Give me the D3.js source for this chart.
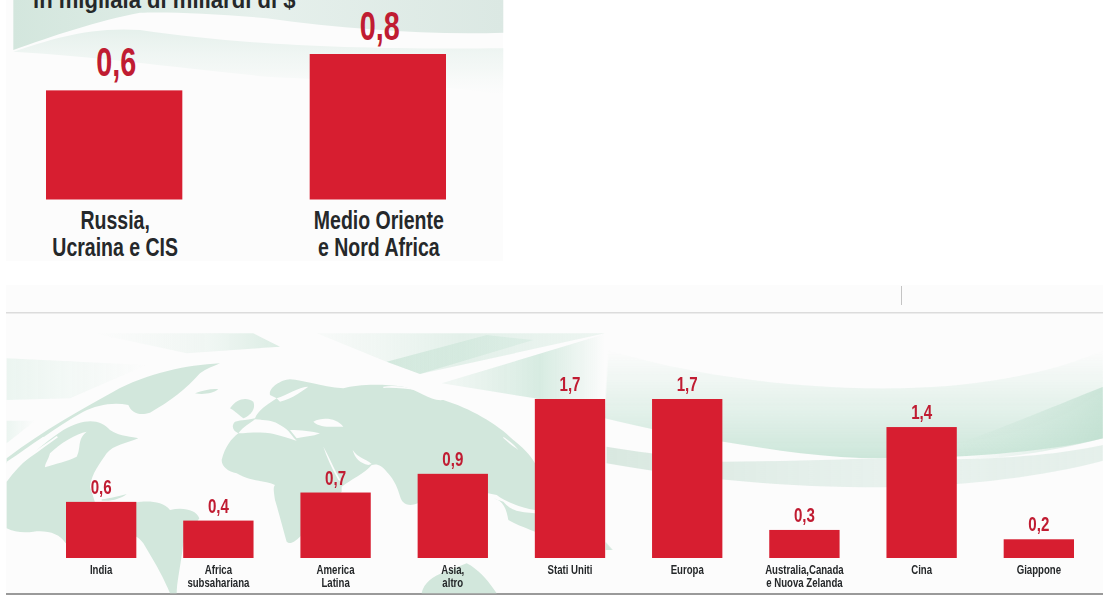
<!DOCTYPE html>
<html>
<head>
<meta charset="utf-8">
<script src="https://cdn.jsdelivr.net/npm/d3@7"></script>
<style>
    html, body { margin: 0; padding: 0; background: #fff; }
    svg { display: block; }
    text { font-family: "Liberation Sans", sans-serif; font-weight: 700; }
</style>
</head>
<body>
<svg id="chart" width="1103" height="595"></svg>
<script>
// Top panel data
const topCategories = ["Russia,\nUcraina e CIS", "Medio Oriente\ne Nord Africa"];
const topValues = [0.6, 0.8];
const topTitle = "in migliaia di miliardi di $";

// Bottom panel data
const bottomCategories = ["India", "Africa\nsubsahariana", "America\nLatina", "Asia,\naltro", "Stati Uniti", "Europa", "Australia,Canada\ne Nuova Zelanda", "Cina", "Giappone"];
const bottomValues = [0.6, 0.4, 0.7, 0.9, 1.7, 1.7, 0.3, 1.4, 0.2];

const barColor = "#d71e30";
const valueColor = "#c01c32";
const labelColor = "#25282a";
const mapColor = "#d2e7dc";
const panelColor = "#fcfcfc";

const svg = d3.select("#chart");
const italianNumber = d => d.toFixed(1).replace(".", ",");

// Gradients for the background bands
const defs = svg.append("defs");
function addGradient(id, stops, x1 = 0, y1 = 0, x2 = 1, y2 = 0) {
    const g = defs.append("linearGradient").attr("id", id)
        .attr("x1", x1).attr("y1", y1).attr("x2", x2).attr("y2", y2);
    stops.forEach(s => g.append("stop").attr("offset", s[0]).attr("stop-color", s[1]).attr("stop-opacity", s[2]));
}
addGradient("bandTop", [[0, "#d3e6dd", 1], [0.5, "#e6f0ec", 1], [1, "#dbe8e3", 1]]);
addGradient("bandPale", [[0, "#e3efea", 0.9], [0.6, "#eef5f2", 0.6], [1, "#f4f8f6", 0]], 0, 0, 0, 1);
addGradient("paleShard", [[0, "#dcefe6", 0.5], [1, "#dcefe6", 0]]);
addGradient("topShard", [[0, "#cfe7db", 0], [0.6, "#cfe7db", 0.25], [1, "#bfdfcf", 0.55]]);
addGradient("shardA", [[0, "#d6ebe0", 0.1], [0.5, "#cbe5d8", 0.5], [1, "#cbe5d8", 0.3]]);
addGradient("shardB", [[0, "#b9dcca", 0.5], [1, "#c8e4d7", 0.35]]);
addGradient("shardC", [[0, "#cbe5d8", 0.2], [0.6, "#c3e2d3", 0.65], [1, "#c3e2d3", 0]]);
addGradient("waveUp", [[0, "#d5ebe0", 0], [0.45, "#cfe8dc", 0.45], [1, "#c3e2d3", 0.85]], 0, 0, 0, 1);
addGradient("waveLow", [[0, "#d5e6dd", 0.9], [0.55, "#e2eee9", 0.8], [1, "#dcebe4", 0.7]]);
addGradient("waveDark", [[0, "#bfe0d0", 0], [1, "#b5dac8", 0.6]]);

// Soft edges, the source is a compressed scan
const soft = defs.append("filter").attr("id", "soft")
    .attr("x", 0).attr("y", 0).attr("width", 1).attr("height", 1)
    .attr("filterUnits", "userSpaceOnUse")
    .attr("x", 0).attr("y", 0).attr("width", 1103).attr("height", 595);
soft.append("feGaussianBlur").attr("stdDeviation", 0.7);

// Panel backgrounds
const bg = svg.append("g");
bg.append("rect").attr("x", 6).attr("y", 0).attr("width", 497).attr("height", 261).attr("fill", panelColor);
bg.append("rect").attr("x", 6).attr("y", 285).attr("width", 1097).attr("height", 310).attr("fill", panelColor);
bg.append("rect").attr("x", 6).attr("y", 312).attr("width", 1097).attr("height", 1.5).attr("fill", "#dcdcdc");
bg.append("rect").attr("x", 6).attr("y", 593).attr("width", 1097).attr("height", 2).attr("fill", "#9a9a9a");
bg.append("rect").attr("x", 901).attr("y", 286).attr("width", 1).attr("height", 19).attr("fill", "#c4c4c4");

// Top panel waves, sketched at 3x
const topWaves = bg.append("g").attr("transform", "scale(0.3333)").attr("filter", "url(#softTop)");
topWaves.append("path").attr("fill", "url(#bandPale)")
    .attr("d", "M40,155 C150,120 260,80 420,90 C700,130 1000,150 1510,145 L1510,285 C1300,250 1000,240 800,230 C500,200 300,170 40,155 Z");
topWaves.append("path").attr("fill", "url(#bandTop)")
    .attr("d", "M40,0 L1510,0 L1510,98 C1300,105 1050,90 800,55 C650,40 500,35 420,38 C300,60 150,110 40,150 Z");
topWaves.attr("filter", null);

// All of the world background goes in one softened group
const world = bg.append("g").attr("filter", "url(#soft)");

// Left half of the world background, sketched at 3x from (0,330)
const leftLayer = world.append("g").attr("transform", "translate(0,330) scale(0.33333)");
const leftShards = [
    ["M20,85 L440,105 L210,205 L20,210 Z", "url(#paleShard)"],
    ["M20,272 L105,272 L20,340 Z", "url(#paleShard)"],
    ["M280,10 L760,10 L840,50 L560,70 Z", "url(#topShard)"]
];
leftLayer.selectAll("path.shard").data(leftShards).join("path")
    .attr("class", "shard").attr("d", d => d[0]).attr("fill", d => d[1]);

const leftLand = [
    // Greenland and the arctic arc
    "M660,100 C560,105 440,130 340,185 C250,235 130,300 20,385 L20,400 C90,350 170,290 250,245 C290,225 340,215 385,225 C395,250 420,258 450,248 C510,215 560,175 600,130 C620,115 640,110 660,100 Z",
    // North America
    "M20,455 C60,400 130,340 190,300 C250,265 300,265 330,300 C360,320 400,320 415,325 C380,340 340,345 320,370 C300,400 275,430 270,470 L285,517 L197,640 C180,610 140,600 100,605 C70,610 40,605 20,595 Z",
    // Cuba
    "M305,508 C330,505 360,497 380,492 C365,505 335,515 305,512 Z",
    // South America
    "M300,517 L408,517 C440,512 490,512 510,540 C550,530 590,540 598,565 L575,600 L550,640 C540,720 530,760 530,790 L510,790 C490,740 460,690 430,640 C415,620 408,610 300,600 Z",
    // Iceland and Britain
    "M585,190 C610,180 640,175 655,178 C640,190 610,195 585,190 Z",
    "M690,235 C710,205 740,200 760,215 C770,240 745,260 730,265 C710,250 700,240 690,235 Z"
];
leftLayer.selectAll("path.land").data(leftLand).join("path")
    .attr("class", "land").attr("d", d => d).attr("fill", mapColor);
const leftCuts = [
    "M135,412 C170,400 200,395 230,380 C245,350 230,330 260,305 C230,310 180,340 150,370 C145,390 135,400 135,412 Z",
    "M20,395 C60,370 90,345 130,320 L135,325 C95,352 60,378 20,405 Z",
    "M20,425 C60,395 110,360 170,318 L174,322 C115,365 65,400 20,435 Z",
    "M210,270 C260,245 300,235 345,240 C300,245 255,260 215,278 Z"
];
leftLayer.selectAll("path.cut").data(leftCuts).join("path")
    .attr("class", "cut").attr("d", d => d).attr("fill", panelColor);

// Right half of the world background, sketched at 3x from (270,330)
const rightLayer = world.append("g").attr("transform", "translate(270,330) scale(0.33333)");
const rightShards = [
    ["M140,10 L1005,10 L450,132 L350,95 Z", "url(#shardA)"],
    ["M350,95 L650,15 L790,30 L450,132 Z", "url(#shardB)"],
    ["M515,160 L1005,12 L1005,300 L795,205 Z", "url(#shardC)"]
];
rightLayer.selectAll("path.shard").data(rightShards).join("path")
    .attr("class", "shard").attr("d", d => d[0]).attr("fill", d => d[1]);

const rightLand = [
    // Eurasia and Africa in one outline
    "M-145,390 C-135,350 -115,325 -95,310 C-115,300 -115,285 -105,275 C-85,270 -65,270 -45,265 C-35,240 -10,225 20,205 L0,195 C-5,175 30,150 60,148 C100,150 150,170 220,175 C260,165 320,160 400,170 C450,180 480,215 520,210 C600,235 680,280 730,330 C770,360 790,390 795,400 L795,540 C740,530 700,510 680,495 L654,490 L443,520 C420,530 400,525 392,505 C385,480 375,450 350,425 C335,405 320,400 305,405 C285,430 240,450 215,470 L215,485 L90,620 C75,635 60,645 50,635 C40,600 30,560 15,510 C10,480 10,470 15,465 C-20,450 -60,455 -100,430 C-125,425 -145,410 -145,390 Z",
    // Indonesia
    "M670,505 C700,510 710,540 715,570 C740,585 770,595 795,605 L795,550 C760,545 730,550 700,515 Z",
    // Australia
    "M455,790 C460,760 490,735 540,720 L590,700 C630,720 660,760 680,790 Z"
];
rightLayer.selectAll("path.land").data(rightLand).join("path")
    .attr("class", "land").attr("d", d => d).attr("fill", mapColor);
const rightCuts = [
    // Red Sea, Gulf, Mediterranean, Black Sea, Baltic
    "M160,350 C175,375 195,425 215,455 L205,450 C185,415 170,380 160,350 Z",
    "M248,360 C265,385 285,385 305,402 L295,405 C270,400 255,385 248,360 Z",
    "M-45,268 C-20,270 10,270 30,285 C60,300 65,320 80,332 C60,328 30,315 0,310 C-30,305 -70,310 -95,310 C-80,290 -60,280 -45,268 Z",
    "M60,300 C90,300 130,305 150,310 C130,320 100,320 80,325 Z",
    "M130,275 C160,260 200,265 220,290 C190,290 150,295 130,275 Z",
    "M20,205 C50,195 90,170 115,170 C100,180 70,205 30,215 Z",
    // Thin arctic breaks
    "M340,170 C370,165 410,170 440,180 C410,176 370,172 340,174 Z",
    "M605,235 C630,245 650,255 670,270 C648,260 628,250 605,239 Z",
    "M700,320 C720,335 735,345 745,360 C728,348 715,338 700,324 Z"
];
rightLayer.selectAll("path.cut").data(rightCuts).join("path")
    .attr("class", "cut").attr("d", d => d).attr("fill", panelColor);

// Waves behind the right-hand bars, from (540,330) on a 2.785 x 3 grid
const waveLayer = world.append("g").attr("transform", "translate(540,330) scale(0.35907,0.33333)");
const waves = [
    ["M190,60 C400,130 700,180 1000,175 C1250,170 1450,120 1568,60 L1568,325 C1400,370 1150,385 950,385 C800,385 650,360 510,335 C400,320 300,295 180,265 Z", "url(#waveUp)"],
    ["M185,350 C300,370 450,390 510,395 C650,395 800,390 950,385 C1150,395 1400,385 1568,345 L1568,392 C1400,440 1200,465 1000,470 C700,480 400,440 185,400 Z", "url(#waveLow)"],
    ["M1160,340 C1300,290 1450,220 1568,170 L1568,325 C1400,370 1300,385 1160,390 Z", "url(#waveDark)"]
];
waveLayer.selectAll("path.wave").data(waves).join("path")
    .attr("class", "wave").attr("d", d => d[0]).attr("fill", d => d[1]);
waveLayer.append("path").attr("d", "M182,635 L202,660 L182,660 Z").attr("fill", mapColor);

// One bar panel with band + linear scale and an axis for the labels
function drawBars(cats, vals, o) {
    const x = d3.scaleBand().domain(cats).range(o.xRange).paddingInner(o.inner).paddingOuter(0);
    const y = d3.scaleLinear().domain([0, o.maxValue]).range(o.yRange);
    const g = svg.append("g");

    const rows = cats.map((c, i) => ({ cat: c, val: vals[i] }));

    g.selectAll("rect").data(rows).join("rect")
        .attr("x", d => x(d.cat))
        .attr("y", d => y(d.val))
        .attr("width", x.bandwidth())
        .attr("height", d => y(0) - y(d.val))
        .attr("fill", barColor);

    // no narrow font installed, so squeeze the text horizontally
    g.selectAll("text.value").data(rows).join("text")
        .attr("class", "value")
        .attr("transform", d => `translate(${x(d.cat) + x.bandwidth() / 2 + o.valueDx},${y(d.val) - o.valueGap}) scale(${o.valueSqueeze},1)`)
        .attr("text-anchor", "middle")
        .attr("font-size", o.valueSize)
        .attr("fill", valueColor)
        .text(d => italianNumber(d.val));

    const axis = d3.axisBottom(x).tickSize(0).tickPadding(0).tickFormat("");
    const axisG = g.append("g").attr("transform", `translate(0,${y(0)})`).call(axis);
    axisG.select(".domain").remove();
    axisG.selectAll(".tick text").each(function (d) {
        const t = d3.select(this)
            .attr("fill", labelColor)
            .attr("font-size", o.labelSize)
            .attr("transform", `translate(${o.labelDx},0) scale(${o.labelSqueeze},1)`)
            .attr("y", 0).attr("dy", null);
        d.split("\n").forEach((line, i) => {
            t.append("tspan").attr("x", 0).attr("y", o.labelY + i * o.labelLead).text(line);
        });
    });
    axisG.attr("font-family", null).attr("font-size", null);
}

drawBars(topCategories, topValues, {
    xRange: [46, 446], inner: 0.483, maxValue: 0.8, yRange: [199.5, 54],
    valueSize: 40, valueGap: 14, valueDx: 2, valueSqueeze: 0.72,
    labelSize: 25, labelY: 29.5, labelLead: 27, labelDx: 1, labelSqueeze: 0.78
});
drawBars(bottomCategories, bottomValues, {
    xRange: [66, 1074], inner: 0.4, maxValue: 1.7, yRange: [558, 399],
    valueSize: 21, valueGap: 8, valueDx: 0, valueSqueeze: 0.72,
    labelSize: 12.5, labelY: 16, labelLead: 13.5, labelDx: 0, labelSqueeze: 0.77
});

// Title, cropped by the top of the picture as in the source
svg.append("text").attr("transform", "translate(33,8) scale(0.92,1)").attr("font-size", 24)
    .attr("fill", labelColor).text(topTitle);
</script>
</body>
</html>
